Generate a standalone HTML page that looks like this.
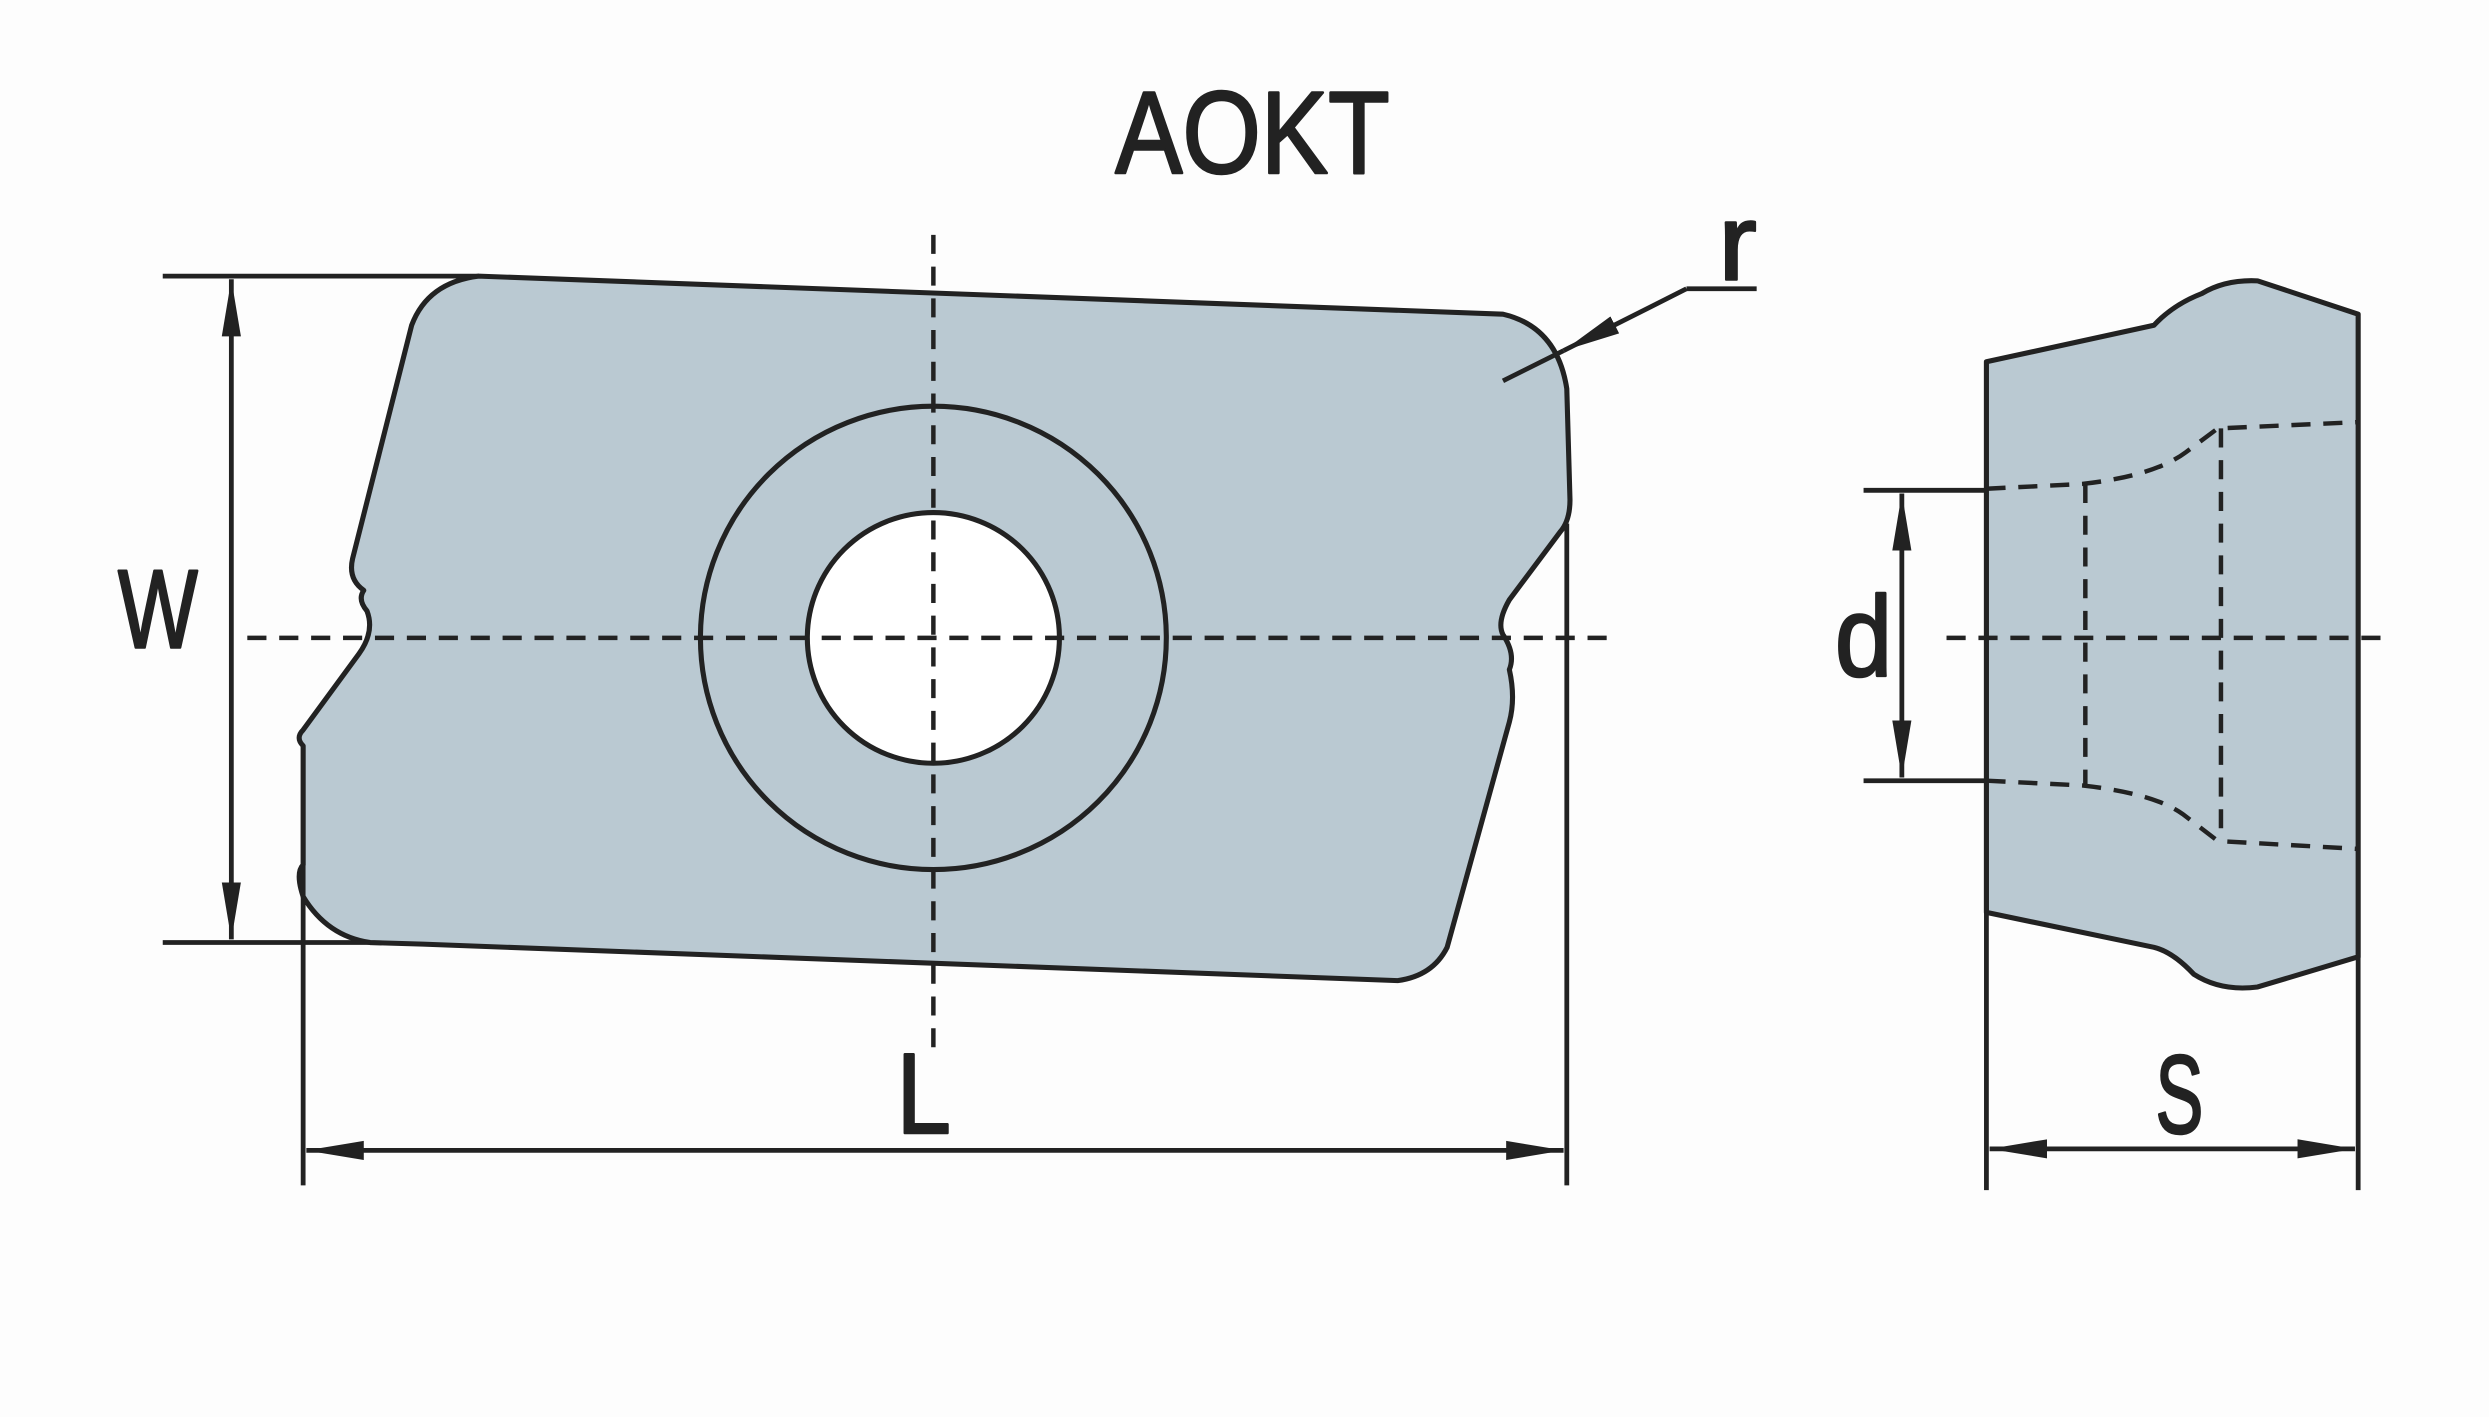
<!DOCTYPE html>
<html><head><style>html,body{margin:0;padding:0;background:#fdfdfd}svg{display:block}</style></head>
<body>
<svg width="2489" height="1417" viewBox="0 0 1560 893" preserveAspectRatio="none" xmlns="http://www.w3.org/2000/svg">
<defs>
<marker id="b" viewBox="0 0 10 10" refX="10" refY="5" markerWidth="36" markerHeight="20" markerUnits="userSpaceOnUse" orient="auto-start-reverse" preserveAspectRatio="none"><path d="M0,2 L10,5 L0,8 Z" fill="#222"/></marker>
</defs>
<rect width="1560" height="893" fill="#fdfdfd"/>
<g font-family="Liberation Sans, sans-serif" fill="#222" stroke="#222" stroke-width="1.6" stroke-linejoin="round">
<text x="785" y="109" font-size="74" text-anchor="middle" textLength="172" lengthAdjust="spacingAndGlyphs">AOKT</text>
<text x="99" y="408" font-size="70" text-anchor="middle" textLength="50" lengthAdjust="spacingAndGlyphs">W</text>
<text x="579" y="714" font-size="72" text-anchor="middle" textLength="34" lengthAdjust="spacingAndGlyphs">L</text>
<text x="1366" y="714" font-size="70" text-anchor="middle" textLength="30" lengthAdjust="spacingAndGlyphs">S</text>
<text x="1089" y="176" font-size="68" text-anchor="middle" textLength="24" lengthAdjust="spacingAndGlyphs">r</text>
<text x="1168" y="426" font-size="72" text-anchor="middle" textLength="36" lengthAdjust="spacingAndGlyphs">d</text>
</g>
<g stroke="#222" stroke-width="3.2" fill="#bac9d2" stroke-linejoin="round">
<path d="M300,174 L942,198 Q976,206 982,245 L984,315 Q984,328 978,335 L946,378 Q938,392 942,400 Q950,412 946,422 Q950,440 946,455 L907,597 Q898,615 876,618 L265,595 L232,594 Q205,590 190,565 Q185,550 190,545 L190,470 Q185,465 190,460 L225,412 Q235,398 230,385 Q224,378 228,372 Q218,365 221,352 L258,205 Q268,178 300,174 Z"/>
<circle cx="585" cy="402" r="146"/>
<circle cx="585" cy="402" r="79" fill="#fff"/>
<path d="M1245,228 L1350,205 Q1362,192 1380,185 Q1395,176 1415,177 L1478,198 L1478,603 L1415,622 Q1392,625 1375,614 Q1362,600 1350,597 L1245,575 Z"/>
</g>
<g stroke="#222" stroke-width="2.8" fill="none" stroke-dasharray="12,8">
<line x1="585" y1="148" x2="585" y2="662"/>
<line x1="155" y1="402" x2="1010" y2="402"/>
<line x1="1220" y1="402" x2="1500" y2="402"/>
<path d="M1245,308 L1305,305 Q1350,300 1370,285 L1390,270 L1478,266"/>
<path d="M1245,492 L1305,495 Q1350,500 1368,513 L1390,530 L1478,535"/>
<line x1="1307" y1="305" x2="1307" y2="495"/>
<line x1="1392" y1="270" x2="1392" y2="530"/>
</g>
<g stroke="#222" stroke-width="3" fill="none">
<line x1="102" y1="174" x2="300" y2="174"/>
<line x1="102" y1="594" x2="232" y2="594"/>
<line x1="145" y1="176" x2="145" y2="592" marker-start="url(#b)" marker-end="url(#b)"/>
<line x1="190" y1="545" x2="190" y2="747"/>
<line x1="982" y1="330" x2="982" y2="747"/>
<line x1="192" y1="725" x2="980" y2="725" marker-start="url(#b)" marker-end="url(#b)"/>
<line x1="942" y1="240" x2="980" y2="221"/>
<line x1="1057" y1="182" x2="980" y2="221" marker-end="url(#b)"/>
<line x1="1057" y1="182" x2="1101" y2="182"/>
<line x1="1168" y1="309" x2="1245" y2="309"/>
<line x1="1168" y1="492" x2="1245" y2="492"/>
<line x1="1192" y1="311" x2="1192" y2="490" marker-start="url(#b)" marker-end="url(#b)"/>
<line x1="1245" y1="575" x2="1245" y2="750"/>
<line x1="1478" y1="603" x2="1478" y2="750"/>
<line x1="1247" y1="724" x2="1476" y2="724" marker-start="url(#b)" marker-end="url(#b)"/>
</g>
</svg>
</body></html>
